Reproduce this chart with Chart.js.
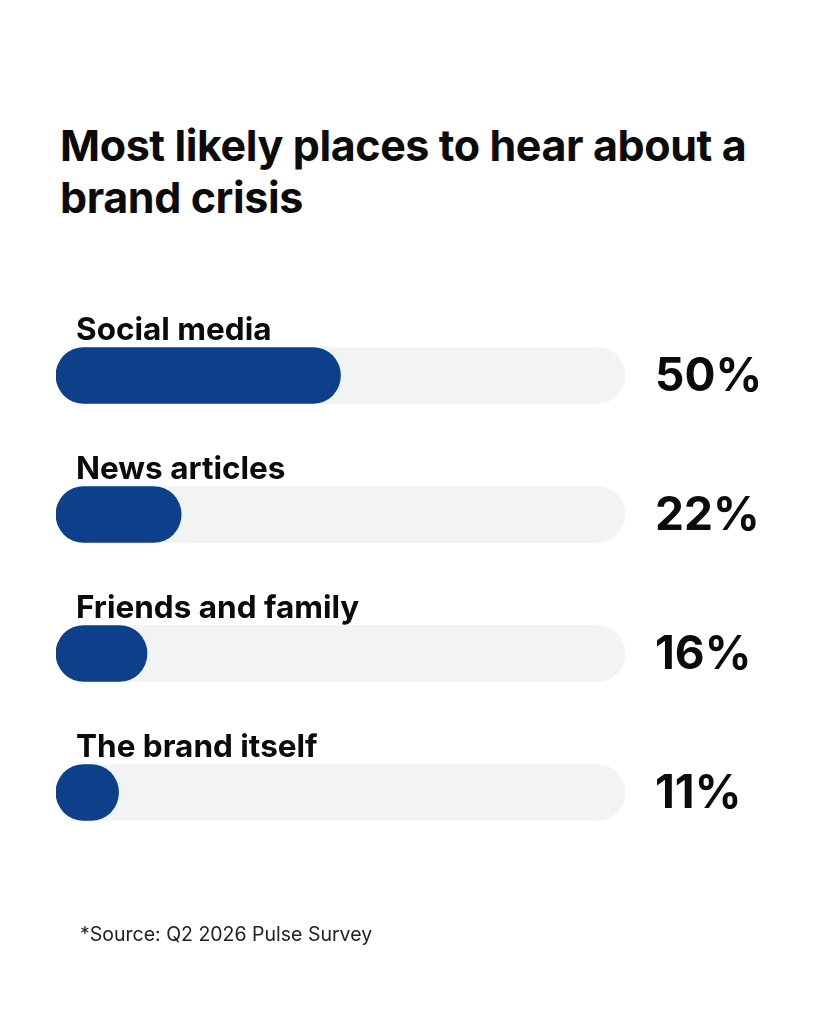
<!DOCTYPE html>
<html>
<head>
<meta charset="utf-8">
<script src="https://cdn.jsdelivr.net/npm/chart.js@4/dist/chart.umd.min.js"></script>
<style>
  html, body { margin: 0; padding: 0; background: #fff; }
  body { width: 819px; height: 1024px; position: relative; overflow: hidden; font-family: "Inter", "Lato", sans-serif; }
  #title { position: absolute; left: 60px; top: 119px; margin: 0; font-size: 43px; line-height: 52px; font-weight: 700; color: #0b0b0b; letter-spacing: -0.4px; }
  #source { position: absolute; left: 80px; top: 922px; font-size: 19.5px; color: #222; }
  #wrap { position: absolute; left: 0; top: 0; width: 819px; height: 1024px; }
</style>
</head>
<body>
<h1 id="title">Most likely places to hear about a<br>brand crisis</h1>
<div id="wrap"><canvas id="barChart"></canvas></div>
<div id="source">*Source: Q2 2026 Pulse Survey</div>
<script>
const categories = ["Social media", "News articles", "Friends and family", "The brand itself"];
const shares = [50, 22, 16, 11];
const fullTrack = [100, 100, 100, 100];

const fillColor = "#0e3f8a";
const trackColor = "#f2f4f4";

// labels above each bar and the percentage to the right
const rowLabels = {
  id: "rowLabels",
  afterDatasetsDraw(chart) {
    const ctx = chart.ctx;
    const area = chart.chartArea;
    const bars = chart.getDatasetMeta(0).data;
    ctx.save();
    bars.forEach((bar, i) => {
      const top = bar.y - bar.height / 2;
      ctx.fillStyle = "#0b0b0b";
      ctx.textBaseline = "alphabetic";
      ctx.textAlign = "left";
      ctx.font = "700 31.5px Inter, Lato, sans-serif";
      ctx.fillText(categories[i], 76, top - 8);

      ctx.font = "700 46px Inter, Lato, sans-serif";
      ctx.textBaseline = "middle";
      ctx.fillText(shares[i] + "%", area.right + 30, bar.y + 2);
    });
    ctx.restore();
  }
};

new Chart(document.getElementById("barChart"), {
  type: "bar",
  data: {
    labels: categories,
    datasets: [
      {
        data: shares,
        backgroundColor: fillColor,
        borderRadius: 28,
        borderSkipped: false,
        barThickness: 56,
        grouped: false,
        order: 0
      },
      {
        data: fullTrack,
        backgroundColor: trackColor,
        borderRadius: 28,
        borderSkipped: false,
        barThickness: 56,
        grouped: false,
        order: 1
      }
    ]
  },
  options: {
    indexAxis: "y",
    responsive: true,
    maintainAspectRatio: false,
    animation: false,
    layout: {
      padding: { left: 56, right: 194, top: 306, bottom: 162 }
    },
    scales: {
      x: { min: 0, max: 100, display: false },
      y: { display: false }
    },
    plugins: {
      legend: { display: false },
      tooltip: { enabled: false }
    }
  },
  plugins: [rowLabels]
});
</script>
</body>
</html>
